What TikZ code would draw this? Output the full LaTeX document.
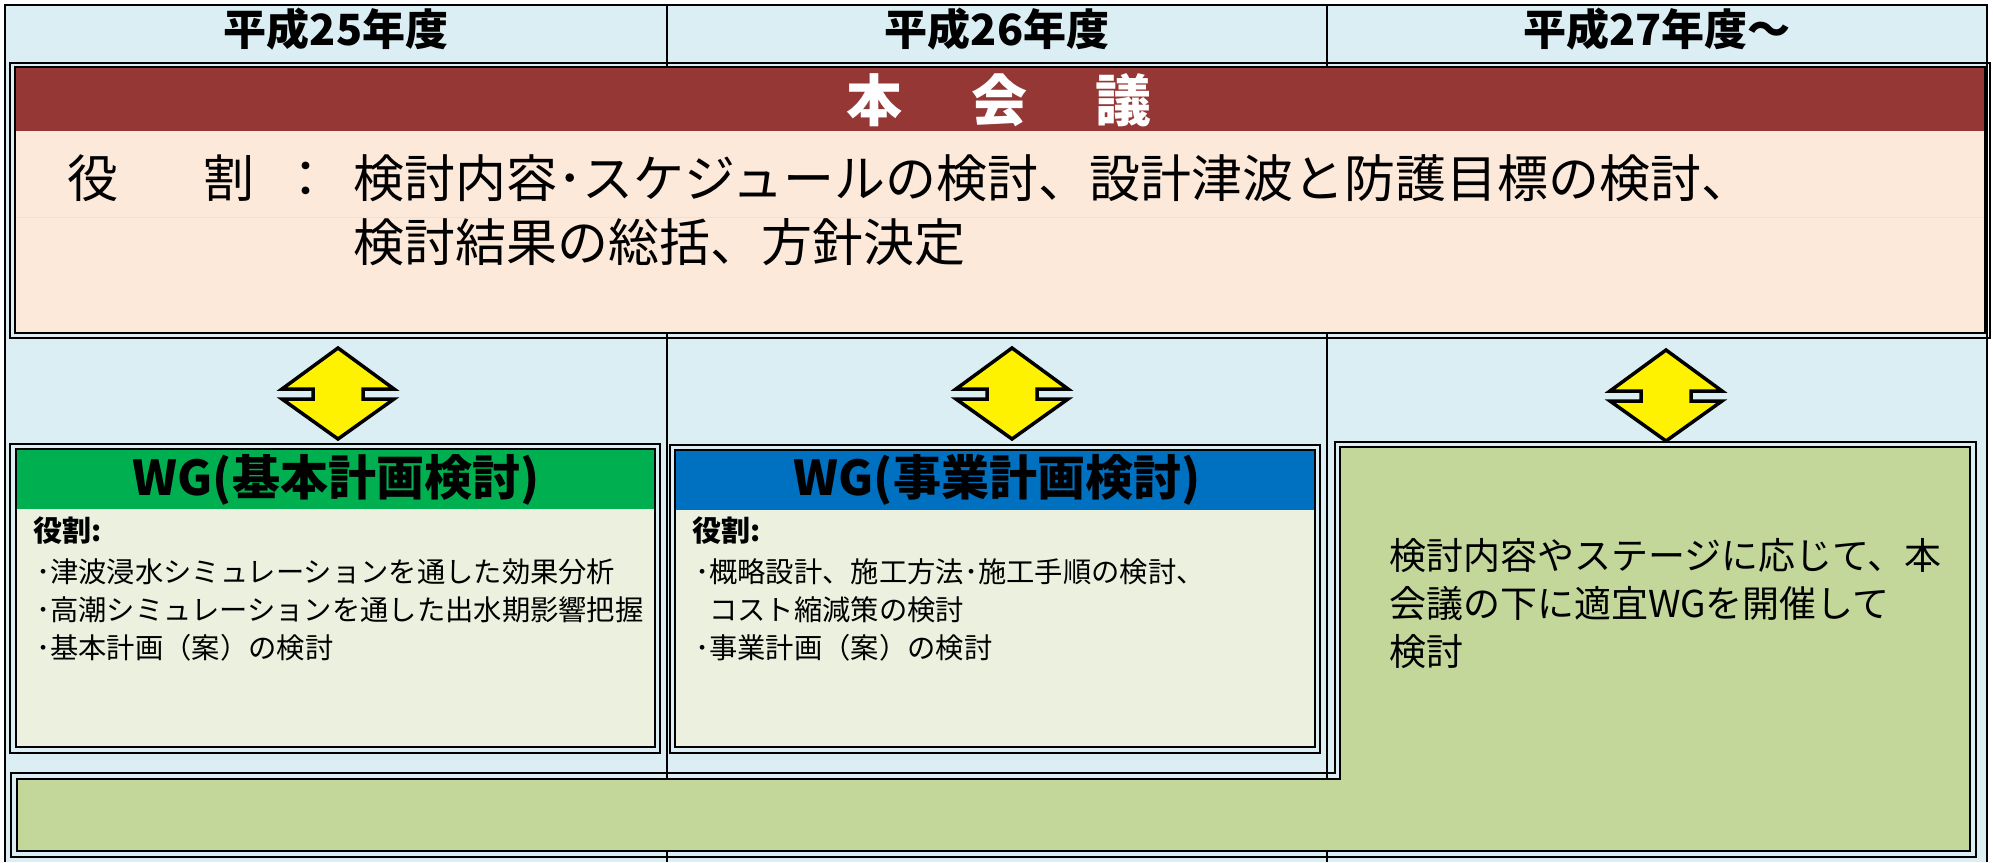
\documentclass[tikz,border=0pt]{standalone}
\usepackage{fontspec}
\setmainfont{Noto Sans CJK JP}
\usetikzlibrary{calc}
\definecolor{bgblue}{HTML}{DAEEF3}
\definecolor{brownband}{HTML}{953735}
\definecolor{pinkfill}{HTML}{FDE9D9}
\definecolor{wggreen}{HTML}{00B050}
\definecolor{wgblue}{HTML}{0070C0}
\definecolor{wgbody}{HTML}{EBF1DE}
\definecolor{olivefill}{HTML}{C4D79B}
\definecolor{faintline}{HTML}{DCE6EA}
\tikzset{
  outerln/.style={line width=1.3pt, draw=black},
  innerln/.style={line width=2.3pt, draw=black},
  hdr/.style={font=\fontsize{43}{45}\selectfont\bfseries, inner sep=0pt},
  bodyL/.style={font=\fontsize{51}{64}\selectfont, inner sep=0pt, anchor=west, align=left},
  wgtitle/.style={font=\fontsize{48}{50}\selectfont\bfseries, inner sep=0pt},
  wglabel/.style={font=\fontsize{29}{31}\selectfont\bfseries, inner sep=0pt, anchor=west},
  wgtext/.style={font=\fontsize{28.3}{38}\selectfont, inner sep=0pt, anchor=west, align=left},
  oltext/.style={font=\fontsize{37}{48}\selectfont, inner sep=0pt, anchor=west, align=left},
  updown/.pic={\draw[line width=3.5pt, fill=yellow, line join=miter]
     (0,-46) -- (56,-5) -- (25,-5) -- (25,5) -- (56,5) -- (0,45)
     -- (-56,5) -- (-25,5) -- (-25,-5) -- (-56,-5) -- cycle;}
}
\begin{document}
\begin{tikzpicture}[x=1pt,y=-1pt]
\useasboundingbox (0,0) rectangle (1993,862);
% background table
\fill[bgblue] (5,5) rectangle (1987,862);
\draw[line width=1.5pt] (667,5) -- (667,862);
\draw[line width=1.5pt] (1327,5) -- (1327,862);
\draw[line width=2pt] (5,862) -- (5,5) -- (1987,5) -- (1987,862);
% year headers
\node[hdr] (y25) at (336,29) {平成25年度};
\node[hdr] (y26) at (997,29) {平成26年度};
\node[hdr] (y27) at (1657,29) {平成27年度～};
% main council box
\draw[outerln] (10,63) rectangle (1990,338);
\fill[pinkfill] (15,67) rectangle (1985,333);
\fill[brownband] (15,67) rectangle (1985,131);
\draw[faintline, line width=1pt] (15,217) -- (1985,217);
\draw[innerln] (15,67) rectangle (1985,333);
\node[font=\fontsize{56}{58}\selectfont\bfseries, text=white, inner sep=0pt] (hktitle) at (999,100) {本\hspace{69pt}会\hspace{69pt}議};
\node[bodyL] (hklabel) at (67,178) {役\hspace{85pt}割\hspace{26pt}：};
\node[bodyL] (hktext) at (353,210) {検討内容･スケジュールの検討、設計津波と防護目標の検討、\\検討結果の総括、方針決定};
% arrows
\coordinate (a1) at (338,394);
\coordinate (a2) at (1012,394);
\coordinate (a3) at (1666,396);
\pic at (a1) {updown};
\pic at (a2) {updown};
\pic at (a3) {updown};
% WG1
\draw[outerln] (10,444) rectangle (660,753);
\fill[wgbody] (16,449) rectangle (655,747);
\fill[wggreen] (16,449) rectangle (655,509);
\draw[innerln] (16,449) rectangle (655,747);
\node[wgtitle] (wg1title) at (336,480) {WG(基本計画検討)};
\node[wglabel] (wg1label) at (33,531) {役割:};
\node[wgtext] (wg1text) at (36,610) {･津波浸水シミュレーションを通した効果分析\\･高潮シミュレーションを通した出水期影響把握\\･基本計画（案）の検討};
% WG2
\draw[outerln] (670,445) rectangle (1320,753);
\fill[wgbody] (675,450) rectangle (1315,747);
\fill[wgblue] (675,450) rectangle (1315,510);
\draw[innerln] (675,450) rectangle (1315,747);
\node[wgtitle] (wg2title) at (997,480) {WG(事業計画検討)};
\node[wglabel] (wg2label) at (692,531) {役割:};
\node[wgtext] (wg2text) at (695,610) {･概略設計、施工方法･施工手順の検討、\\\phantom{･}コスト縮減策の検討\\･事業計画（案）の検討};
% L-shaped future WG area
\draw[outerln] (11,773) -- (1335,773) -- (1335,442) -- (1976,442) -- (1976,857) -- (11,857) -- cycle;
\fill[olivefill] (17,779) -- (1340,779) -- (1340,447) -- (1970,447) -- (1970,851) -- (17,851) -- cycle;
\draw[innerln] (17,779) -- (1340,779) -- (1340,447) -- (1970,447) -- (1970,851) -- (17,851) -- cycle;
\node[oltext] (oltext) at (1389,604) {検討内容やステージに応じて、本\\会議の下に適宜WGを開催して\\検討};
\end{tikzpicture}
\end{document}
